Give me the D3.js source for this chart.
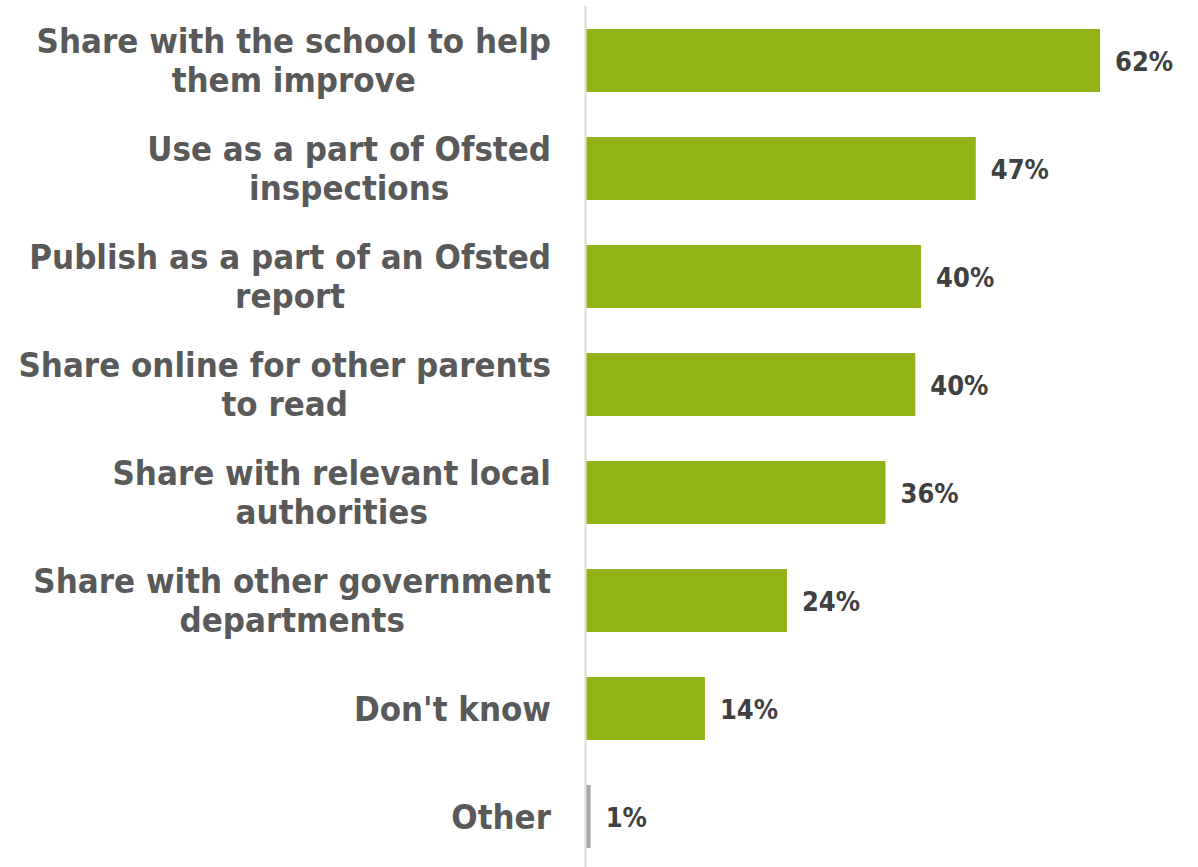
<!DOCTYPE html>
<html>
<head>
<meta charset="utf-8">
<script src="https://cdn.jsdelivr.net/npm/d3@7/dist/d3.min.js"></script>
<style>
  html, body { margin: 0; padding: 0; background: #ffffff; }
  svg { display: block; }
</style>
</head>
<body>
<svg id="chart" width="1198" height="867"></svg>
<script>
const categories = [
  "Share with the school to help them improve",
  "Use as a part of Ofsted inspections",
  "Publish as a part of an Ofsted report",
  "Share online for other parents to read",
  "Share with relevant local authorities",
  "Share with other government departments",
  "Don't know",
  "Other"
];
const values = [62.0, 47.0, 40.4, 39.7, 36.1, 24.2, 14.3, 0.5];
const valueLabels = ["62%", "47%", "40%", "40%", "36%", "24%", "14%", "1%"];
const barColors = ["#92b316", "#92b316", "#92b316", "#92b316", "#92b316", "#92b316", "#92b316", "#a6a6a6"];

const svg = d3.select("#chart");
const FONT = "'DejaVu Sans Condensed', 'DejaVu Sans', sans-serif";
const LABEL_SIZE = 34.5;

const x = d3.scaleLinear().domain([0, 62]).range([586.5, 1100]);
const y = d3.scaleBand().domain(categories).range([6.5, 870.5])
  .paddingInner(45 / 108).paddingOuter(45 / 216);

// axis line
svg.append("line")
  .attr("x1", 585.5).attr("x2", 585.5)
  .attr("y1", 6).attr("y2", 867)
  .attr("stroke", "#d9d9d9").attr("stroke-width", 2);

// bars
svg.selectAll("rect.bar").data(categories).join("rect")
  .attr("class", "bar")
  .attr("x", x(0))
  .attr("y", d => y(d))
  .attr("width", (d, i) => Math.max(0, x(values[i]) - x(0)))
  .attr("height", y.bandwidth())
  .attr("fill", (d, i) => barColors[i]);

// value labels
svg.selectAll("text.val").data(categories).join("text")
  .attr("class", "val")
  .attr("x", (d, i) => x(values[i]) + 15)
  .attr("y", d => y(d) + y.bandwidth() / 2 + 1)
  .attr("dominant-baseline", "central")
  .attr("font-family", FONT)
  .attr("font-weight", "bold")
  .attr("font-size", 27)
  .attr("fill", "#404040")
  .text((d, i) => valueLabels[i]);

// category labels (wrapped, lines centered, block right-aligned)
const rightEdge = 551;
const maxW = 548;
const lineH = 39;
categories.forEach(cat => {
  const g = svg.append("g");
  const probe = g.append("text")
    .attr("font-family", FONT).attr("font-weight", "bold").attr("font-size", LABEL_SIZE);
  const words = cat.split(" ");
  const lines = [];
  let cur = "";
  words.forEach(w => {
    const test = cur ? cur + " " + w : w;
    probe.text(test);
    if (probe.node().getComputedTextLength() > maxW && cur) {
      lines.push(cur);
      cur = w;
    } else {
      cur = test;
    }
  });
  if (cur) lines.push(cur);
  const widths = lines.map(l => { probe.text(l); return probe.node().getComputedTextLength(); });
  probe.remove();
  const blockW = d3.max(widths);
  const cx = rightEdge - blockW / 2;
  const cy = y(cat) + y.bandwidth() / 2;
  lines.forEach((l, k) => {
    g.append("text")
      .attr("x", cx)
      .attr("y", cy + (k - (lines.length - 1) / 2) * lineH)
      .attr("text-anchor", "middle")
      .attr("dominant-baseline", "central")
      .attr("font-family", FONT)
      .attr("font-weight", "bold")
      .attr("font-size", LABEL_SIZE)
      .attr("fill", "#595959")
      .text(l);
  });
});
</script>
</body>
</html>
